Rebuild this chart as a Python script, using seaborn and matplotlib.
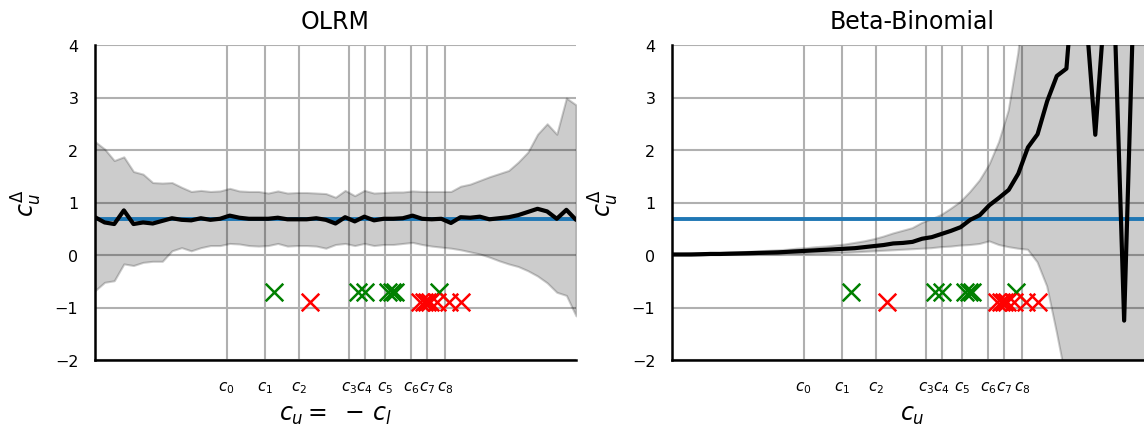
import numpy as np
import matplotlib
matplotlib.use("Agg")
import matplotlib.pyplot as plt
import seaborn as sns

# ---------------- data ----------------
x_grid = np.linspace(-3, 3, 51)

olrm_mean = [0.72, 0.62, 0.59, 0.85, 0.59, 0.62, 0.60, 0.65, 0.70, 0.67,
             0.66, 0.70, 0.67, 0.69, 0.75, 0.71, 0.69, 0.69, 0.69, 0.71,
             0.68, 0.68, 0.68, 0.70, 0.67, 0.60, 0.72, 0.64, 0.73, 0.66,
             0.69, 0.69, 0.70, 0.75, 0.69, 0.68, 0.69, 0.61, 0.72, 0.71,
             0.73, 0.68, 0.70, 0.72, 0.76, 0.82, 0.88, 0.83, 0.69, 0.86, 0.67]
olrm_upper = [2.16, 2.02, 1.80, 1.87, 1.59, 1.54, 1.38, 1.37, 1.38, 1.29,
              1.21, 1.23, 1.21, 1.22, 1.27, 1.22, 1.21, 1.21, 1.18, 1.22,
              1.18, 1.19, 1.19, 1.18, 1.17, 1.10, 1.23, 1.13, 1.23, 1.18,
              1.19, 1.20, 1.20, 1.22, 1.21, 1.21, 1.21, 1.21, 1.31, 1.35,
              1.42, 1.49, 1.55, 1.61, 1.77, 1.96, 2.30, 2.50, 2.30, 2.99, 2.86]
olrm_lower = [-0.68, -0.52, -0.49, -0.17, -0.20, -0.14, -0.12, -0.12, 0.08, 0.14,
              0.08, 0.14, 0.18, 0.18, 0.22, 0.21, 0.18, 0.17, 0.18, 0.22,
              0.17, 0.18, 0.18, 0.17, 0.13, 0.20, 0.22, 0.18, 0.22, 0.18,
              0.20, 0.20, 0.22, 0.24, 0.20, 0.17, 0.15, 0.13, 0.10, 0.06,
              0.02, -0.04, -0.11, -0.17, -0.22, -0.30, -0.40, -0.53, -0.71, -0.77, -1.16]

bb_mean = [0.01, 0.01, 0.01, 0.015, 0.02, 0.02, 0.025, 0.03, 0.035, 0.04,
           0.045, 0.05, 0.06, 0.07, 0.08, 0.09, 0.10, 0.11, 0.12, 0.13,
           0.15, 0.17, 0.19, 0.22, 0.23, 0.25, 0.31, 0.34, 0.40, 0.46,
           0.53, 0.67, 0.76, 0.95, 1.09, 1.24, 1.55, 2.05, 2.30, 2.93,
           3.41, 3.55, 5.80, 4.67, 2.29, 4.80, 4.60, -1.25, 5.00, 5.00, 5.00]
bb_upper = [0.02, 0.02, 0.03, 0.03, 0.04, 0.04, 0.05, 0.05, 0.06, 0.07,
            0.08, 0.09, 0.10, 0.12, 0.13, 0.15, 0.16, 0.18, 0.20, 0.23,
            0.26, 0.30, 0.35, 0.41, 0.46, 0.51, 0.61, 0.68, 0.76, 0.88,
            1.01, 1.20, 1.42, 1.72, 2.15, 2.75, 3.85, 5.50, 7.00, 8.00,
            9.00, 9.00, 9.00, 9.00, 9.00, 9.00, 9.00, 9.00, 9.00, 9.00, 9.00]
bb_lower = [-0.01, -0.01, -0.01, -0.01, 0.00, 0.00, 0.00, 0.00, 0.00, 0.01,
            0.01, 0.01, 0.02, 0.02, 0.02, 0.03, 0.03, 0.04, 0.04, 0.05,
            0.06, 0.07, 0.08, 0.09, 0.10, 0.11, 0.12, 0.13, 0.15, 0.16,
            0.18, 0.19, 0.21, 0.26, 0.19, 0.15, 0.12, 0.10, -0.14, -0.60,
            -1.47, -2.40, -5.0, -5.0, -5.0, -5.0, -5.0, -5.0, -5.0, -5.0, -5.0]

reference_level = 0.68

thresholds = [-1.357, -0.879, -0.455, 0.172, 0.364, 0.614, 0.942, 1.141, 1.366]
threshold_labels = [r"$c_0$", r"$c_1$", r"$c_2$", r"$c_3$", r"$c_4$",
                    r"$c_5$", r"$c_6$", r"$c_7$", r"$c_8$"]

green_x = [-0.767, 0.281, 0.374, 0.661, 0.711, 0.748, 1.285]
green_y = [-0.7] * len(green_x)
red_x = [-0.312, 1.054, 1.104, 1.141, 1.179, 1.266, 1.416, 1.566]
red_y = [-0.9] * len(red_x)

titles = ["OLRM", "Beta-Binomial"]
xlabels = [r"$c_u =\ -\,c_l$", r"$c_u$"]
ylabel = r"$c_u^\Delta$"

# ---------------- plot ----------------
sns.set_style("whitegrid")
plt.rcParams.update({"text.color": "black", "axes.labelcolor": "black",
                     "xtick.color": "black", "ytick.color": "black"})
W, H = 1144, 427
fig = plt.figure(figsize=(W / 100, H / 100), dpi=100)
axes = [fig.add_axes([95 / W, 66 / H, 481 / W, 315 / H]),
        fig.add_axes([672 / W, 66 / H, 481 / W, 315 / H])]

series = [(olrm_mean, olrm_lower, olrm_upper), (bb_mean, bb_lower, bb_upper)]

for ax, (m, lo, hi), title, xl in zip(axes, series, titles, xlabels):
    ax.set_axisbelow(True)
    ax.grid(True, color="#b0b0b0", lw=1.5)
    ax.fill_between(x_grid, lo, hi, color="k", alpha=0.2, lw=1.5)
    ax.axhline(reference_level, color="#1f77b4", lw=2.8)
    sns.lineplot(x=x_grid, y=m, ax=ax, color="k", lw=3, zorder=3)
    sns.scatterplot(x=green_x, y=green_y, ax=ax, marker="x", color="green",
                    s=160, linewidth=1.8, zorder=4)
    sns.scatterplot(x=red_x, y=red_y, ax=ax, marker="x", color="red",
                    s=160, linewidth=1.8, zorder=4)
    ax.set_xlim(-3, 3)
    ax.set_ylim(-2, 4)
    ax.set_xticks(thresholds)
    ax.set_xticklabels(threshold_labels)
    ax.set_yticks(range(-2, 5))
    ax.tick_params(axis="x", length=0, pad=14, labelsize=11)
    ax.tick_params(axis="y", length=0, pad=12, labelsize=11.5)
    for s in ["top", "right"]:
        ax.spines[s].set_visible(False)
    for s in ["left", "bottom"]:
        ax.spines[s].set_visible(True)
        ax.spines[s].set_color("k")
        ax.spines[s].set_linewidth(1.8)
    ax.set_title(title, fontsize=17, pad=12)
    ax.set_xlabel(xl, fontsize=17, labelpad=5)
    ax.set_ylabel(ylabel, fontsize=17, labelpad=8)

fig.savefig("out.png", dpi=100)
